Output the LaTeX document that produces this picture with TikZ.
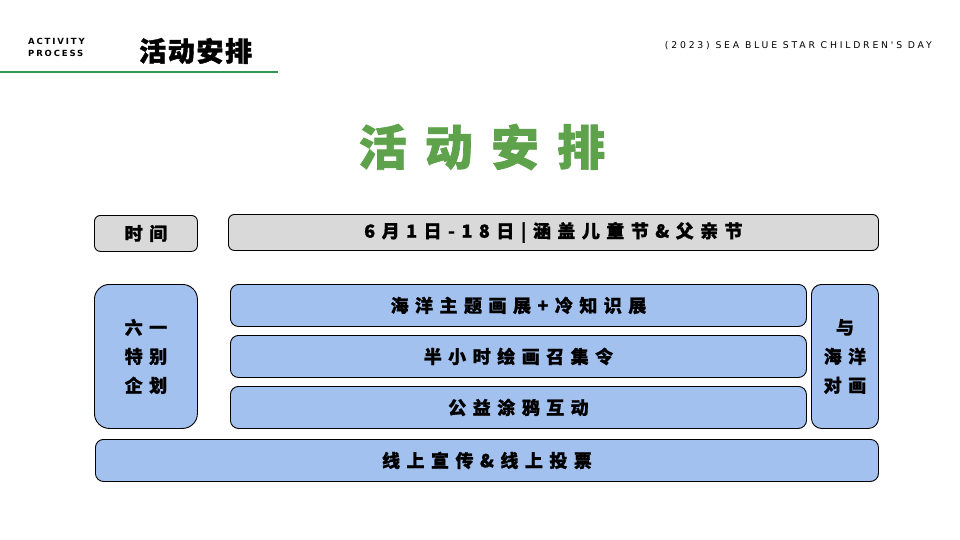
\documentclass[tikz,border=0pt]{standalone}
\usepackage{fontspec}
\setmainfont{DejaVu Sans}
\newfontfamily\cjk{Noto Sans CJK SC}
\newfontfamily\latn{DejaVu Sans}
\definecolor{graybox}{HTML}{D9D9D9}
\definecolor{bluebox}{HTML}{A3C1EE}
\definecolor{titlegreen}{HTML}{5FA24C}
\definecolor{linegreen}{HTML}{2E9A55}
\tikzset{
  box/.style={draw=black, line width=0.9pt, inner sep=0pt, anchor=north west},
  gbox/.style={box, fill=graybox, rounded corners=6pt},
  bbox/.style={box, fill=bluebox, rounded corners=8pt},
  boxtext/.style={font=\cjk\bfseries\fontsize{18}{29}\selectfont\addfontfeatures{LetterSpace=36,FakeBold=1}, align=center, inner sep=0pt},
}
\begin{document}
\begin{tikzpicture}[x=1pt,y=-1pt]
\useasboundingbox[fill=white] (0,0) rectangle (960,540);
% header
\draw[linegreen, line width=1.3pt] (0,72) -- (278,72);
\node[font=\latn\bfseries\fontsize{8.5}{12}\selectfont\addfontfeatures{LetterSpace=22}, align=left, anchor=west, inner sep=0pt] (hdr) at (28,47) {ACTIVITY\\PROCESS};
\node[font=\cjk\bfseries\fontsize{27}{27}\selectfont\addfontfeatures{LetterSpace=6,FakeBold=1.5}, anchor=west, inner sep=0pt] (hdrcn) at (139,51) {活动安排};
\node[font=\latn\fontsize{9.3}{10}\selectfont\addfontfeatures{LetterSpace=30}, anchor=east, inner sep=0pt] (hdrr) at (932,46) {(2023) SEA BLUE STAR CHILDREN'S DAY};
% title
\node[font=\cjk\bfseries\fontsize{48}{48}\selectfont\addfontfeatures{LetterSpace=38,FakeBold=1.5}, text=titlegreen, inner sep=0pt] (title) at (482,147) {活动安排};
% row 1
\node[gbox, minimum width=103pt, minimum height=36pt] (time) at (94,215) {};
\node[boxtext] at (time.center) {时间};
\node[gbox, minimum width=650pt, minimum height=36pt] (date) at (228,214) {};
\node[boxtext] at (date.center) {6月1日-18日|涵盖儿童节\&父亲节};
% left tall
\node[box, fill=bluebox, rounded corners=15pt, minimum width=103pt, minimum height=144pt] (left) at (94,284) {};
\node[boxtext] at (left.center) {六一\\特别\\企划};
% right tall
\node[box, fill=bluebox, rounded corners=10pt, minimum width=67pt, minimum height=144pt] (right) at (811,284) {};
\node[boxtext] at (right.center) {与\\海洋\\对画};
% middle boxes
\node[bbox, minimum width=576pt, minimum height=42pt] (m1) at (230,284) {};
\node[boxtext] at (m1.center) {海洋主题画展+冷知识展};
\node[bbox, minimum width=576pt, minimum height=42pt] (m2) at (230,335) {};
\node[boxtext] at (m2.center) {半小时绘画召集令};
\node[bbox, minimum width=576pt, minimum height=42pt] (m3) at (230,386) {};
\node[boxtext] at (m3.center) {公益涂鸦互动};
% bottom
\node[bbox, minimum width=783pt, minimum height=42pt] (bot) at (95,439) {};
\node[boxtext] at (bot.center) {线上宣传\&线上投票};
\end{tikzpicture}
\end{document}
